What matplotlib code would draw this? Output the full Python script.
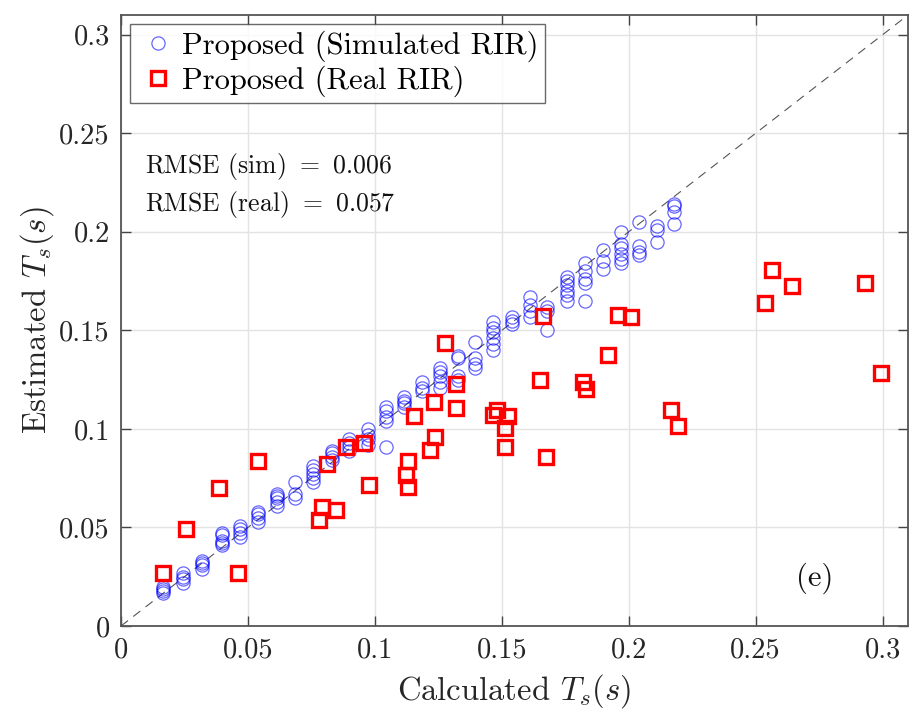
import numpy as np
import matplotlib
matplotlib.use("Agg")
import matplotlib.pyplot as plt
from matplotlib.ticker import FuncFormatter

# LaTeX-looking text (MATLAB figure with latex interpreter)
plt.rcParams['font.family'] = 'serif'
plt.rcParams['font.serif'] = ['cmr10']
plt.rcParams['mathtext.fontset'] = 'cm'
plt.rcParams['axes.unicode_minus'] = False

# Simulated RIR: calculated Ts levels and the estimated values at each level
sim_calc = [0.0167, 0.0243, 0.032, 0.0396, 0.0469, 0.054, 0.0613, 0.0685,
            0.0757, 0.083, 0.0899, 0.0971, 0.1042, 0.1114, 0.1186, 0.1256,
            0.1328, 0.1396, 0.1466, 0.154, 0.1613, 0.168, 0.1755, 0.1827,
            0.1897, 0.1968, 0.204, 0.211, 0.218]
sim_est = [
    [0.017, 0.018, 0.019, 0.020],
    [0.022, 0.024, 0.025, 0.027],
    [0.029, 0.031, 0.032, 0.033],
    [0.041, 0.042, 0.043, 0.046, 0.047],
    [0.045, 0.047, 0.049, 0.051],
    [0.053, 0.055, 0.057, 0.058],
    [0.061, 0.063, 0.065, 0.066, 0.067],
    [0.065, 0.067, 0.073],
    [0.073, 0.075, 0.077, 0.079, 0.081],
    [0.084, 0.086, 0.088, 0.089],
    [0.089, 0.091, 0.093, 0.095],
    [0.092, 0.095, 0.097, 0.100],
    [0.091, 0.104, 0.106, 0.109, 0.111],
    [0.111, 0.113, 0.114, 0.116],
    [0.119, 0.121, 0.124],
    [0.121, 0.124, 0.127, 0.129, 0.131],
    [0.125, 0.127, 0.136, 0.137],
    [0.131, 0.133, 0.136, 0.144],
    [0.140, 0.143, 0.146, 0.149, 0.151, 0.154],
    [0.153, 0.155, 0.157],
    [0.157, 0.160, 0.163, 0.167],
    [0.150, 0.160, 0.162],
    [0.165, 0.168, 0.170, 0.173, 0.175, 0.177],
    [0.165, 0.174, 0.176, 0.180, 0.184],
    [0.181, 0.185, 0.191],
    [0.184, 0.186, 0.189, 0.192, 0.194, 0.200],
    [0.188, 0.190, 0.193, 0.205],
    [0.195, 0.201, 0.203],
    [0.204, 0.210, 0.213, 0.214],
]

# Real RIR points
real_calc = [0.0167, 0.0256, 0.0387, 0.054, 0.0462, 0.0778, 0.0790, 0.0846,
             0.0813, 0.0886, 0.0958, 0.0978, 0.1131, 0.1122, 0.1131, 0.1217,
             0.1237, 0.1156, 0.1233, 0.1320, 0.1320, 0.1275, 0.1465, 0.1483,
             0.1525, 0.1512, 0.1512, 0.1673, 0.1652, 0.1663, 0.1820, 0.1830,
             0.1917, 0.1959, 0.2009, 0.2167, 0.2193, 0.2538, 0.2565, 0.2643,
             0.2930, 0.2995]
real_est = [0.027, 0.049, 0.0702, 0.0838, 0.0267, 0.0538, 0.0604, 0.059,
            0.0824, 0.091, 0.0931, 0.0716, 0.0836, 0.0767, 0.0707, 0.0893,
            0.0957, 0.1067, 0.1135, 0.1104, 0.1230, 0.1437, 0.1071, 0.1096,
            0.1066, 0.1007, 0.091, 0.0859, 0.1249, 0.1572, 0.124, 0.1201,
            0.1376, 0.1579, 0.157, 0.1096, 0.1015, 0.1638, 0.1807, 0.1727,
            0.174, 0.1286]

ticks = [0, 0.05, 0.1, 0.15, 0.2, 0.25, 0.3]
lims = [0, 0.31]

sim_x = np.concatenate([[c] * len(e) for c, e in zip(sim_calc, sim_est)])
sim_y = np.concatenate(sim_est)

fig = plt.figure(figsize=(9.09, 7.18), dpi=100)
ax = fig.add_axes([0.1331, 0.1281, 0.8658, 0.851])

ax.plot(lims, lims, color='#555555', lw=0.8, ls=(0, (8, 6)), zorder=1)
ax.plot(sim_x, sim_y, ls='none', marker='o', ms=9.5, mfc='none',
        mec=(0, 0, 1, 0.6), mew=0.9, label='Proposed (Simulated RIR)', zorder=3)
ax.plot(real_calc, real_est, ls='none', marker='s', ms=10, mfc='none',
        mec='red', mew=2.4, label='Proposed (Real RIR)', zorder=4)

ax.set_xlim(lims)
ax.set_ylim(lims)
ax.set_xticks(ticks)
ax.set_yticks(ticks)
fmt = FuncFormatter(lambda v, _: f'{v:g}')
ax.xaxis.set_major_formatter(fmt)
ax.yaxis.set_major_formatter(fmt)
ax.grid(True, color='#e3e3e3', lw=1.0)
ax.set_axisbelow(True)
ax.tick_params(direction='in', length=7, width=1.0, colors='#444444',
               labelcolor='#262626', labelsize=20.5, top=True, right=True, pad=8)
for s in ax.spines.values():
    s.set_color('#555555')
    s.set_linewidth(1.3)

ax.set_xlabel('Calculated $T_s(s)$', fontsize=23.5, color='#262626', labelpad=6)
ax.set_ylabel('Estimated $T_s(s)$', fontsize=23.5, color='#262626', labelpad=2)

ax.text(0.0095, 0.233, 'RMSE (sim) $=$ 0.006', fontsize=18.5, color='#111111',
        va='center')
ax.text(0.0095, 0.2137, 'RMSE (real) $=$ 0.057', fontsize=18.5, color='#111111',
        va='center')
ax.text(0.2732, 0.0244, '(e)', fontsize=22, color='#111111',
        ha='center', va='center')

leg = ax.legend(loc='upper left', fontsize=22, frameon=True, fancybox=False,
                borderpad=0.2, handletextpad=0.1, handlelength=1.4,
                labelspacing=0.12, borderaxespad=0.3)
leg.get_frame().set_edgecolor('#444444')
leg.get_frame().set_linewidth(1.0)

fig.savefig('out.png', dpi=100)
